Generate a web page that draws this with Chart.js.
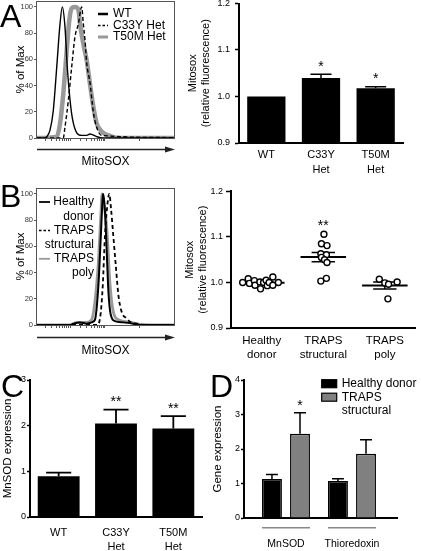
<!DOCTYPE html>
<html>
<head>
<meta charset="utf-8">
<title>MitoSOX and MnSOD</title>
<script src="https://cdn.jsdelivr.net/npm/chart.js@4.4.1/dist/chart.umd.min.js"></script>
<style>
	body { margin: 0; background: #fff; }
	#fig { position: relative; width: 421px; height: 551px; overflow: hidden; }
	#fig canvas { position: absolute; }
	.tag { position: absolute; font: 32px/1 "Liberation Sans", Arial, sans-serif; color: #000; }
</style>
</head>
<body>
<div id="fig">
	<canvas id="hist_a" width="185" height="172" style="left:0;top:0"></canvas>
	<canvas id="bar_a" width="238" height="180" style="left:183px;top:0"></canvas>
	<canvas id="hist_b" width="185" height="175" style="left:0;top:186px"></canvas>
	<canvas id="dots_b" width="238" height="180" style="left:183px;top:186px"></canvas>
	<canvas id="bar_c" width="210" height="181" style="left:0;top:370px"></canvas>
	<canvas id="bar_d" width="211" height="181" style="left:210px;top:370px"></canvas>
	<div class="tag" style="left:0;top:0">A</div>
	<div class="tag" style="left:0;top:180px">B</div>
	<div class="tag" style="left:1px;top:370px">C</div>
	<div class="tag" style="left:210px;top:370px">D</div>
</div>
<script>
const FONT = '"Liberation Sans", Arial, Helvetica, sans-serif';

// A: MitoSOX histograms (channel, % of max)
const a_wt_ch = [0, 60, 71, 95, 119, 144, 168, 185, 204, 221, 241, 260, 290, 326, 363, 387, 436, 484, 1000];
const a_wt_pct = [0, 0, 1, 6, 21, 54, 87, 100, 85, 54, 29, 14, 4, 2, 2, 3, 1, 0, 0];
const a_c33y_ch = [0, 192, 204, 229, 253, 277, 302, 326, 338, 350, 363, 387, 411, 436, 472, 1000];
const a_c33y_pct = [0, 0, 8, 29, 54, 77, 87, 100, 87, 75, 57, 42, 20, 8, 2, 0.3];
const a_t50m_ch = [0, 144, 168, 192, 217, 236, 253, 277, 302, 314, 338, 363, 387, 411, 436, 472, 521, 582, 1000];
const a_t50m_pct = [0, 1, 11, 34, 67, 90, 99, 100, 98, 87, 72, 59, 41, 24, 11, 5, 2, 0, 0];

// A: mean MitoSOX fluorescence
const a_groups = ['WT', ['C33Y', 'Het'], ['T50M', 'Het']];
const a_mitosox = [1.0, 1.04, 1.018];
const a_mitosox_err = [0, 0.008, 0.003];
const a_stars = ['', '*', '*'];

// B: MitoSOX histograms
const b_hd_ch = [0, 241, 265, 314, 363, 399, 423, 448, 465, 480, 484, 496, 509, 521, 538, 569, 630, 703, 752, 1000];
const b_hd_pct = [0, 0, 1, 2, 1, 2, 4, 30, 66, 98, 100, 87, 56, 26, 8, 3, 2, 1, 0, 0];
const b_ts_ch = [0, 436, 460, 480, 496, 514, 528, 540, 557, 577, 594, 618, 655, 679, 727, 800, 1000];
const b_ts_pct = [0, 0, 5, 30, 68, 92, 100, 89, 68, 43, 23, 10, 5, 2.5, 1, 0, 0];
const b_tp_ch = [0, 241, 290, 363, 399, 423, 448, 465, 475, 489, 509, 533, 557, 594, 679, 752, 1000];
const b_tp_pct = [0, 0, 2, 2, 4, 18, 48, 82, 100, 92, 74, 31, 10, 4, 2, 0.5, 0];

// B: per donor MitoSOX, with horizontal spread of the dots
const b_groups = [['Healthy', 'donor'], ['TRAPS', 'structural'], ['TRAPS', 'poly']];
const b_healthy = [1.000, 1.008, 0.998, 1.004, 0.994, 1.001, 0.986, 1.000, 1.005, 0.993, 1.000, 1.012, 0.994, 1.000];
const b_healthy_jit = [-0.31, -0.22, -0.20, -0.12, -0.11, -0.03, -0.02, 0.03, 0.07, 0.09, 0.12, 0.18, 0.18, 0.27];
const b_structural = [1.106, 1.085, 1.081, 1.063, 1.061, 1.055, 1.050, 1.044, 1.003, 1.009];
const b_structural_jit = [0.01, -0.03, 0.06, -0.04, 0.05, -0.03, 0.02, 0.06, -0.04, 0.05];
const b_poly = [1.007, 0.999, 0.996, 1.001, 0.964];
const b_poly_jit = [-0.09, 0, 0.06, 0.2, 0.05];
const b_stars = ['', '**', ''];

// C: MnSOD expression
const c_groups = ['WT', ['C33Y', 'Het'], ['T50M', 'Het']];
const c_mnsod = [0.89, 2.05, 1.94];
const c_mnsod_err = [0.08, 0.30, 0.27];
const c_stars = ['', '**', '**'];

// D: gene expression
const d_genes = ['MnSOD', 'Thioredoxin'];
const d_healthy = [1.13, 1.07];
const d_healthy_err = [0.13, 0.07];
const d_traps = [2.44, 1.86];
const d_traps_err = [0.61, 0.41];
const d_traps_stars = ['*', ''];

Chart.defaults.font.family = FONT;
Chart.defaults.color = '#000';
Chart.defaults.animation = false;
Chart.defaults.responsive = false;
Chart.defaults.plugins.legend.display = false;
Chart.defaults.plugins.tooltip.enabled = false;

function xy(xs, ys) {
	return xs.map((x, i) => ({x: x, y: ys[i]}));
}

function mean(a) {
	return a.reduce((s, v) => s + v, 0) / a.length;
}

function sem(a) {
	const m = mean(a);
	return Math.sqrt(a.reduce((s, v) => s + (v - m) * (v - m), 0) / (a.length - 1) / a.length);
}

// box round the histogram plus the arrow under it
const flow_frame = {
	id: 'flow_frame',
	afterDraw: function (chart, args, opts) {
		const ctx = chart.ctx, a = chart.chartArea;
		ctx.save();
		ctx.strokeStyle = '#555';
		ctx.lineWidth = 1;
		ctx.strokeRect(Math.round(a.left) - 0.5, Math.round(a.top) + 0.5,
			Math.round(a.right - a.left) + 1, Math.round(a.bottom - a.top));
		const y = Math.round(a.bottom + opts.gap) + 0.5;
		ctx.strokeStyle = '#222';
		ctx.fillStyle = '#222';
		ctx.lineWidth = 1.5;
		ctx.beginPath();
		ctx.moveTo(a.left, y);
		ctx.lineTo(a.right - 6, y);
		ctx.stroke();
		ctx.beginPath();
		ctx.moveTo(a.right + 1, y);
		ctx.lineTo(a.right - 9, y - 3);
		ctx.lineTo(a.right - 9, y + 3);
		ctx.closePath();
		ctx.fill();
		ctx.restore();
	}
};

// legend with line samples, inside the plot
const line_key = {
	id: 'line_key',
	afterDraw: function (chart, args, o) {
		const ctx = chart.ctx, a = chart.chartArea;
		ctx.save();
		ctx.font = '12px ' + FONT;
		ctx.textBaseline = 'middle';
		ctx.textAlign = o.align;
		let y = a.top + o.first_y;
		chart.data.datasets.forEach(ds => {
			ctx.strokeStyle = ds.borderColor;
			ctx.lineWidth = ds.key_width;
			ctx.setLineDash(ds.key_dash || []);
			ctx.beginPath();
			ctx.moveTo(a.left + o.sample_x, y);
			ctx.lineTo(a.left + o.sample_x + o.sample_len, y);
			ctx.stroke();
			ctx.fillStyle = '#000';
			[].concat(ds.label).forEach(t => {
				ctx.fillText(t, a.left + o.text_x, y);
				y += o.row_h;
			});
		});
		ctx.restore();
	}
};

// legend with filled boxes (panel D)
const box_key = {
	id: 'box_key',
	afterDraw: function (chart, args, o) {
		const ctx = chart.ctx, a = chart.chartArea;
		ctx.save();
		ctx.font = '12px ' + FONT;
		ctx.textBaseline = 'middle';
		let y = a.top + o.first_y;
		chart.data.datasets.forEach(ds => {
			ctx.fillStyle = ds.backgroundColor;
			ctx.fillRect(a.left + o.box_x, y - o.box_h / 2, o.box_w, o.box_h);
			ctx.strokeStyle = '#000';
			ctx.lineWidth = 1.2;
			ctx.strokeRect(a.left + o.box_x, y - o.box_h / 2, o.box_w, o.box_h);
			ctx.fillStyle = '#000';
			[].concat(ds.label).forEach(t => {
				ctx.fillText(t, a.left + o.text_x, y);
				y += o.row_h;
			});
		});
		ctx.restore();
	}
};

// one sided error bars and significance stars on bars
const err_bars = {
	id: 'err_bars',
	afterDatasetsDraw: function (chart, args, o) {
		const ctx = chart.ctx, ys = chart.scales.y;
		ctx.save();
		chart.data.datasets.forEach((ds, i) => {
			if (!ds.errors) return;
			const meta = chart.getDatasetMeta(i);
			meta.data.forEach((bar, j) => {
				const raw = ds.data[j];
				const v = typeof raw === 'object' ? raw.y : raw;
				const top = ys.getPixelForValue(v + ds.errors[j]);
				if (ds.errors[j] > 0) {
					const half = bar.width * o.cap / 2;
					ctx.strokeStyle = '#000';
					ctx.lineWidth = o.width;
					ctx.beginPath();
					ctx.moveTo(bar.x, bar.y);
					ctx.lineTo(bar.x, top);
					ctx.moveTo(bar.x - half, top);
					ctx.lineTo(bar.x + half, top);
					ctx.stroke();
				}
				if (ds.stars && ds.stars[j]) {
					ctx.fillStyle = '#000';
					ctx.font = '14px ' + FONT;
					ctx.textAlign = 'center';
					ctx.textBaseline = 'alphabetic';
					ctx.fillText(ds.stars[j], bar.x, top - o.star_gap);
				}
			});
		});
		ctx.restore();
	}
};

// gray rule under each group of bars (panel D)
const group_rule = {
	id: 'group_rule',
	afterDraw: function (chart, args, o) {
		const ctx = chart.ctx, a = chart.chartArea;
		const metas = chart.data.datasets.map((d, i) => chart.getDatasetMeta(i));
		ctx.save();
		ctx.strokeStyle = '#888';
		ctx.lineWidth = 1.5;
		metas[0].data.forEach((b, j) => {
			let lo = Infinity, hi = -Infinity;
			metas.forEach(m => {
				lo = Math.min(lo, m.data[j].x - m.data[j].width / 2);
				hi = Math.max(hi, m.data[j].x + m.data[j].width / 2);
			});
			ctx.beginPath();
			ctx.moveTo(lo, a.bottom + o.gap);
			ctx.lineTo(hi, a.bottom + o.gap);
			ctx.stroke();
		});
		ctx.restore();
	}
};

// stars above the highest dot of a group (panel B)
const group_stars = {
	id: 'group_stars',
	afterDraw: function (chart, args, o) {
		const ctx = chart.ctx, xs = chart.scales.x, ys = chart.scales.y;
		ctx.save();
		ctx.fillStyle = '#000';
		ctx.font = '14px ' + FONT;
		ctx.textAlign = 'center';
		o.stars.forEach((s, g) => {
			if (!s) return;
			const top = ys.getPixelForValue(Math.max.apply(null, o.values[g]));
			ctx.fillText(s, xs.getPixelForValue(g + 1), top - o.gap);
		});
		ctx.restore();
	}
};

function flow_ticks() {
	// log style tick marks, one decade every 255 channels
	let t = [];
	for (let d = 0; d < 2; d++) {
		for (let m = 2; m <= 9; m++) t.push(-14 + d * 255 + 255 * Math.log10(m));
	}
	return t.concat([241, 496, 751]);
}

function make_hist(id, datasets, pad, x_h, gap, key) {
	return new Chart(document.getElementById(id), {
		type: 'line',
		data: {datasets: datasets},
		options: {
			layout: {padding: pad},
			elements: {point: {radius: 0}, line: {cubicInterpolationMode: 'monotone'}},
			scales: {
				x: {
					type: 'linear', min: 0, max: 1000,
					afterBuildTicks: s => { s.ticks = flow_ticks().map(v => ({value: v})); },
					afterFit: s => { s.height = x_h; s.paddingLeft = 0; s.paddingRight = 0; },
					ticks: {display: false},
					grid: {drawOnChartArea: false, tickLength: 3, tickColor: '#555'},
					border: {display: false},
					title: {display: true, text: 'MitoSOX', font: {size: 12}, padding: {top: 0, bottom: 3}}
				},
				y: {
					min: 0, max: 104.5,
					afterBuildTicks: s => { s.ticks = [0, 20, 40, 60, 80, 100].map(v => ({value: v})); },
					afterFit: s => { s.width = 37; s.paddingTop = 0; s.paddingBottom = 0; },
					ticks: {font: {size: 7.5}, color: '#333', padding: 1},
					grid: {drawOnChartArea: false, tickLength: 3, tickColor: '#555'},
					border: {display: false},
					title: {display: true, text: '% of Max', font: {size: 11.5}, padding: {top: 14, bottom: 0}}
				}
			},
			plugins: {flow_frame: {gap: gap}, line_key: key}
		},
		plugins: [flow_frame, line_key]
	});
}

function y_axis(o) {
	let ticks = {font: {size: 9}, color: '#000', padding: o.tick_pad};
	if (o.fmt) ticks.callback = o.fmt;
	return {
		min: o.min, max: o.max,
		afterBuildTicks: s => { s.ticks = o.ticks.map(v => ({value: v})); },
		afterFit: s => { s.width = o.width; s.paddingTop = 0; s.paddingBottom = 0; },
		ticks: ticks,
		grid: {drawOnChartArea: false, tickLength: o.tick_len, tickWidth: 1.5, tickColor: '#000'},
		border: {display: true, color: '#000', width: 2},
		title: {display: true, text: o.title, font: {size: o.title_size, lineHeight: 1.2}, padding: {top: o.title_pad, bottom: 0}}
	};
}

function x_axis(o) {
	return {
		afterFit: s => { s.height = o.height; s.paddingLeft = 0; s.paddingRight = 0; },
		ticks: {font: {size: o.size, lineHeight: o.lh}, color: '#000', padding: o.pad, maxRotation: 0, autoSkip: false},
		grid: {display: false, drawTicks: false},
		border: {display: true, color: '#000', width: 2}
	};
}

const fmt1 = v => v.toFixed(1);

// A left
make_hist('hist_a', [
	{label: 'WT', data: xy(a_wt_ch, a_wt_pct), borderColor: '#000', borderWidth: 1.4, key_width: 2.5},
	{label: 'C33Y Het', data: xy(a_c33y_ch, a_c33y_pct), borderColor: '#000', borderWidth: 1.4,
		borderDash: [4, 2.5], key_width: 1.5, key_dash: [2.5, 2]},
	{label: 'T50M Het', data: xy(a_t50m_ch, a_t50m_pct), borderColor: '#999', borderWidth: 4.5, key_width: 3}
], {left: 0, top: 1, right: 11, bottom: 0}, 34, 11,
	{align: 'left', sample_x: 61, sample_len: 10, text_x: 76, first_y: 13, row_h: 11.5});

// A right
new Chart(document.getElementById('bar_a'), {
	type: 'bar',
	data: {
		labels: a_groups,
		datasets: [{data: a_mitosox, errors: a_mitosox_err, stars: a_stars, backgroundColor: '#000',
			categoryPercentage: 1, barPercentage: 0.7}]
	},
	options: {
		layout: {padding: {left: 0, top: 3.5, right: 18, bottom: 0}},
		scales: {
			x: x_axis({height: 37, size: 11, lh: 1.36, pad: 4.5}),
			y: y_axis({min: 0.9, max: 1.2, ticks: [0.9, 1.0, 1.1, 1.2], fmt: fmt1, width: 56, tick_pad: 5, tick_len: 4,
				title: ['Mitosox', '(relative fluorescence)'], title_size: 11, title_pad: 3.4})
		},
		plugins: {err_bars: {cap: 0.55, width: 1.5, star_gap: 3.5}}
	},
	plugins: [err_bars]
});

// B left
make_hist('hist_b', [
	{label: ['Healthy', 'donor'], data: xy(b_hd_ch, b_hd_pct), borderColor: '#000', borderWidth: 2, key_width: 1.8},
	{label: ['TRAPS', 'structural'], data: xy(b_ts_ch, b_ts_pct), borderColor: '#000', borderWidth: 1.8,
		borderDash: [4, 3], key_width: 1.5, key_dash: [2.5, 2]},
	{label: ['TRAPS', 'poly'], data: xy(b_tp_ch, b_tp_pct), borderColor: '#999', borderWidth: 2.8, key_width: 1.8}
], {left: 0, top: 2, right: 11, bottom: 0}, 36, 12,
	{align: 'right', sample_x: 2, sample_len: 11, text_x: 57, first_y: 14, row_h: 14.2});

// B right
const b_vals = [b_healthy, b_structural, b_poly];
const b_jits = [b_healthy_jit, b_structural_jit, b_poly_jit];
let b_points = [], b_mean_line = [], b_sem_line = [];
b_vals.forEach((vals, g) => {
	const c = g + 1, m = mean(vals), e = sem(vals);
	vals.forEach((v, i) => b_points.push({x: c + b_jits[g][i], y: v}));
	b_mean_line.push({x: c - 0.37, y: m}, {x: c + 0.37, y: m}, {x: c + 0.5, y: null});
	b_sem_line.push(
		{x: c - 0.19, y: m + e}, {x: c + 0.19, y: m + e}, {x: c + 0.5, y: null},
		{x: c - 0.19, y: m - e}, {x: c + 0.19, y: m - e}, {x: c + 0.5, y: null},
		{x: c, y: m - e}, {x: c, y: m + e}, {x: c + 0.5, y: null});
});

new Chart(document.getElementById('dots_b'), {
	type: 'line',
	data: {
		datasets: [
			{data: b_points, showLine: false, pointRadius: 3, pointBorderWidth: 1.4,
				pointBackgroundColor: '#fff', pointBorderColor: '#000'},
			{data: b_mean_line, borderColor: '#000', borderWidth: 2, pointRadius: 0},
			{data: b_sem_line, borderColor: '#000', borderWidth: 1.5, pointRadius: 0}
		]
	},
	options: {
		layout: {padding: {left: 0, top: 5, right: 0, bottom: 0}},
		scales: {
			x: Object.assign(x_axis({height: 38, size: 11.5, lh: 1.25, pad: 5.5}), {
				type: 'linear', min: 0.5, max: 3.5, offset: false,
				afterBuildTicks: s => { s.ticks = b_groups.map((g, i) => ({value: i + 1})); }
			}),
			y: y_axis({min: 0.9, max: 1.2, ticks: [0.9, 1.0, 1.1, 1.2], fmt: fmt1, width: 48, tick_pad: 3, tick_len: 5,
				title: ['Mitosox', '(relative fluorescence)'], title_size: 11, title_pad: 0.5})
		},
		plugins: {group_stars: {stars: b_stars, values: b_vals, gap: 4}}
	},
	plugins: [group_stars]
});
Chart.getChart('dots_b').options.scales.x.ticks.callback = v => b_groups[v - 1];
Chart.getChart('dots_b').update();

// C
new Chart(document.getElementById('bar_c'), {
	type: 'bar',
	data: {
		labels: c_groups,
		datasets: [{data: c_mnsod, errors: c_mnsod_err, stars: c_stars, backgroundColor: '#000',
			categoryPercentage: 1, barPercentage: 0.73}]
	},
	options: {
		layout: {padding: {left: 0, top: 10, right: 8, bottom: 0}},
		scales: {
			x: x_axis({height: 34, size: 11, lh: 1.27, pad: 9}),
			y: y_axis({min: 0, max: 3, ticks: [0, 1, 2, 3], width: 30, tick_pad: 1, tick_len: 3,
				title: 'MnSOD expression', title_size: 11.5, title_pad: 1.1})
		},
		plugins: {err_bars: {cap: 0.6, width: 1.8, star_gap: 3.5}}
	},
	plugins: [err_bars]
});

// D
new Chart(document.getElementById('bar_d'), {
	type: 'bar',
	data: {
		datasets: [
			{label: 'Healthy donor', data: xy([1, 2], d_healthy), errors: d_healthy_err,
				backgroundColor: '#000', borderColor: '#000', borderWidth: 1.5},
			{label: ['TRAPS', 'structural'], data: xy([1, 2], d_traps), errors: d_traps_err, stars: d_traps_stars,
				backgroundColor: '#808080', borderColor: '#000', borderWidth: 1.5}
		]
	},
	options: {
		categoryPercentage: 0.85,
		barPercentage: 0.71,
		layout: {padding: {left: 0, top: 10, right: 24, bottom: 0}},
		scales: {
			x: Object.assign(x_axis({height: 33, size: 10.5, lh: 1.2, pad: 19.7}), {
				type: 'linear', min: 0.364, max: 2.682, offset: false,
				afterBuildTicks: s => { s.ticks = d_genes.map((g, i) => ({value: i + 1})); }
			}),
			y: y_axis({min: 0, max: 4, ticks: [0, 1, 2, 3, 4], width: 34, tick_pad: 1, tick_len: 3,
				title: 'Gene expression', title_size: 11.5, title_pad: 1.1})
		},
		plugins: {
			err_bars: {cap: 0.6, width: 1.5, star_gap: 2.5},
			box_key: {box_x: 77.7, box_w: 15, box_h: 8, text_x: 97.7, first_y: 3.7, row_h: 13.5},
			group_rule: {gap: 9.7}
		}
	},
	plugins: [err_bars, box_key, group_rule]
});
Chart.getChart('bar_d').options.scales.x.ticks.callback = v => d_genes[v - 1];
Chart.getChart('bar_d').update();
</script>
</body>
</html>
